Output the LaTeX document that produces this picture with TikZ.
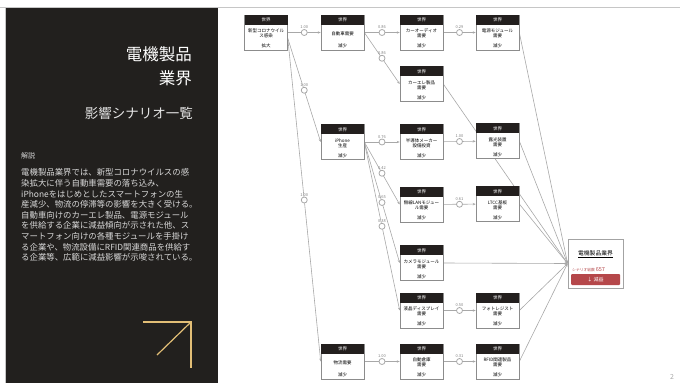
\documentclass[tikz,border=0pt]{standalone}
\usepackage{fontspec}
\setmainfont{Noto Sans CJK JP}
\usepackage{xcolor}
\usetikzlibrary{arrows.meta,positioning,backgrounds}
\definecolor{panelblack}{HTML}{22201E}
\definecolor{hdrblack}{HTML}{231F1E}
\definecolor{goldline}{HTML}{E2BE76}
\definecolor{edgegray}{HTML}{A8A8A8}
\definecolor{boxgray}{HTML}{8C8C8C}
\definecolor{lossred}{HTML}{B5474A}

% one scenario card: name, position, label, change
\newcommand{\scncard}[4]{%
  \node[card] (#1) at (#2) {};
  \node[hdr] at (#1.north) {世界};
  \node[cardtxt] at ([yshift=-1pt]#1.center) {#3};
  \node[cardchg] at ([yshift=4.5pt]#1.south) {#4};}

\begin{document}
\begin{tikzpicture}[x=1pt,y=-1pt,
  card/.style={rectangle,draw=boxgray,fill=white,line width=0.6pt,
    minimum width=43pt,minimum height=35pt,inner sep=0pt},
  hdr/.style={fill=hdrblack,text=white,font=\fontsize{4.5}{5}\selectfont,
    minimum width=43pt,minimum height=10pt,inner sep=0pt,anchor=north},
  cardtxt/.style={font=\fontsize{4.5}{5}\selectfont,align=center,inner sep=0pt},
  cardchg/.style={font=\fontsize{4.5}{5}\selectfont,inner sep=0pt},
  arr/.style={-{Stealth[length=3pt,width=2.4pt]},color=edgegray,line width=0.6pt},
  wt/.style={circle,draw=edgegray,fill=white,line width=0.8pt,minimum size=6pt,inner sep=0pt},
  wlbl/.style={font=\fontsize{4}{4}\selectfont,text=gray,above=3.5pt,inner sep=0pt}]
  \useasboundingbox (0,0) rectangle (680,383);

  % left panel
  \draw[boxgray!50,line width=0.8pt] (0,7.5) -- (680,7.5);
  \draw[boxgray!50,line width=0.8pt] (5.5,7.5) -- (5.5,383);
  \fill[panelblack] (6,8) rectangle (218,383);
  \node[anchor=east,inner sep=0pt,text=white,align=right,
    font=\fontsize{16.5}{24}\selectfont] (ttl) at (192,66) {電機製品\\業界};
  \node[anchor=east,inner sep=0pt,text=white!90!black,
    font=\fontsize{13.5}{14}\selectfont] (sub) at (193,113) {影響シナリオ一覧};
  \node[anchor=west,inner sep=0pt,text=white!85!black,
    font=\fontsize{7}{8}\selectfont] (head) at (21,156) {解説};
  \node[anchor=north west,inner sep=0pt,text=white!85!black,align=left,
    font=\fontsize{8.4}{10.6}\selectfont] (body) at (21,168.5)
    {電機製品業界では、新型コロナウイルスの感\\染拡大に伴う自動車需要の落ち込み、\\iPhoneをはじめとしたスマートフォンの生\\産減少、物流の停滞等の影響を大きく受ける。\\自動車向けのカーエレ製品、電源モジュール\\を供給する企業に減益傾向が示された他、ス\\マートフォン向けの各種モジュールを手掛け\\る企業や、物流設備にRFID関連商品を供給す\\る企業等、広範に減益影響が示唆されている。};
  \draw[goldline,line width=1.2pt] (143,322) -- (191,322) -- (191,368);
  \draw[goldline,line width=1.2pt] (157,355) -- (191,322);
  \node[text=gray!70,font=\fontsize{7}{8}\selectfont] (pgno) at (672,377) {2};

  % scenario cards
  \scncard{cov}{266,32.5}{新型コロナウイル\\ス感染}{拡大}
  \scncard{car}{342.5,32.5}{自動車需要}{減少}
  \scncard{caud}{421.5,32.5}{カーオーディオ\\需要}{減少}
  \scncard{psu}{497.5,32.5}{電源モジュール\\需要}{減少}
  \scncard{cele}{421.5,84}{カーエレ製品\\需要}{減少}
  \scncard{iph}{342.5,142}{iPhone\\生産}{減少}
  \scncard{semi}{421.5,142}{半導体メーカー\\設備投資}{減少}
  \scncard{expo}{497.5,141}{露光装置\\需要}{減少}
  \scncard{wlan}{421.5,204.5}{無線LANモジュー\\ル需要}{減少}
  \scncard{ltcc}{497.5,204}{LTCC基板\\需要}{減少}
  \scncard{cam}{421.5,263}{カメラモジュール\\需要}{減少}
  \scncard{lcd}{421.5,310.5}{液晶ディスプレイ\\需要}{減少}
  \scncard{resist}{497.5,310.5}{フォトレジスト\\需要}{減少}
  \scncard{logi}{342.5,361.5}{物流需要}{減少}
  \scncard{awh}{421.5,361.5}{自動倉庫\\需要}{減少}
  \scncard{rfid}{497.5,361.5}{RFID関連製品\\需要}{減少}

  % industry result
  \node[draw=boxgray!80,line width=0.8pt,fill=white,minimum width=55pt,
    minimum height=49pt,inner sep=0pt] (goal) at (595.5,263.5) {};
  \node[inner sep=0pt,font=\fontsize{5.8}{6}\selectfont] (goalttl) at (595.5,254) {\underline{電機製品業界}};
  \node[anchor=west,inner sep=0pt,text=lossred,font=\fontsize{3.8}{4}\selectfont] (goalcnt) at (572,270)
    {シナリオ総数 {\fontsize{5.5}{6}\selectfont 657}};
  \node[fill=lossred,rounded corners=1pt,minimum width=49pt,minimum height=11pt,inner sep=0pt,
    text=white,font=\fontsize{5}{6}\selectfont] (goalbtn) at (595.5,279.5) {↓ 減益};

  \begin{scope}[on background layer]
  \draw[arr] (cov) -- node[wt]{} node[wlbl]{1.00} (car);
  \draw[arr] (car) -- node[wt]{} node[wlbl]{0.86} (caud);
  \draw[arr] (car.east) -- node[wt]{} node[wlbl]{0.86} (cele.west);
  \draw[arr] (caud) -- node[wt]{} node[wlbl]{0.29} (psu);
  \draw[arr] ([yshift=-6pt]cov.east) -- node[wt]{} node[wlbl]{1.00} (iph.west);
  \draw[arr] ([yshift=-6pt]cov.east) -- node[wt]{} node[wlbl]{1.00} (logi.west);
  \draw[arr] (iph) -- node[wt]{} node[wlbl]{0.76} (semi);
  \draw[arr] (iph.east) -- node[wt]{} node[wlbl]{0.42} (wlan.west);
  \draw[arr] (iph.east) -- node[wt]{} node[wlbl]{0.65} (cam.west);
  \draw[arr] (iph.east) -- node[wt]{} node[wlbl]{0.38} (lcd.west);
  \draw[arr] (semi) -- node[wt]{} node[wlbl]{1.00} (expo);
  \draw[arr] (wlan) -- node[wt]{} node[wlbl]{0.61} (ltcc);
  \draw[arr] (lcd) -- node[wt]{} node[wlbl]{0.50} (resist);
  \draw[arr] (logi) -- node[wt]{} node[wlbl]{1.00} (awh);
  \draw[arr] (awh) -- node[wt]{} node[wlbl]{0.31} (rfid);
  \draw[arr] (psu.east) -- (goal.west);
  \draw[arr] (cele.east) -- (goal.west);
  \draw[arr] (expo.east) -- (goal.west);
  \draw[arr] (ltcc.east) -- (goal.west);
  \draw[arr] (cam.east) -- (goal.west);
  \draw[arr] (resist.east) -- (goal.west);
  \draw[arr] (rfid.east) -- (goal.west);
  \end{scope}
\end{tikzpicture}
\end{document}
